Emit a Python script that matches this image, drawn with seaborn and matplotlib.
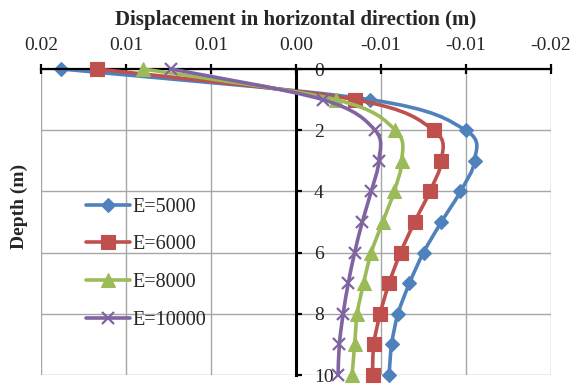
import numpy as np
import pandas as pd
import matplotlib
matplotlib.use("Agg")
import matplotlib.pyplot as plt
from matplotlib.ticker import FormatStrFormatter
from matplotlib.path import Path
from matplotlib.patches import PathPatch
from matplotlib.lines import Line2D
import seaborn as sns

sns.set_theme(style="white")
plt.rcParams['font.family'] = ['Liberation Serif', 'DejaVu Serif']

depth = [0, 1, 2, 3, 4, 5, 6, 7, 8, 9, 10]
disp_5000 = [0.0184, -0.0058, -0.0133, -0.0140, -0.0129, -0.0114, -0.0100, -0.0089, -0.0080, -0.0075, -0.0073]
disp_6000 = [0.0156, -0.0046, -0.0108, -0.0114, -0.0105, -0.0093, -0.0082, -0.0073, -0.0066, -0.0061, -0.0060]
disp_8000 = [0.0120, -0.0031, -0.0078, -0.0083, -0.0077, -0.0068, -0.0059, -0.0053, -0.0048, -0.0046, -0.0044]
disp_10000 = [0.0098, -0.0021, -0.0062, -0.0065, -0.0059, -0.0052, -0.0046, -0.0041, -0.0037, -0.0034, -0.0033]
labels = ["E=5000", "E=6000", "E=8000", "E=10000"]
x_ticks = [0.02, 0.04 / 3, 0.02 / 3, 0.0, -0.02 / 3, -0.04 / 3, -0.02]
y_ticks = [0, 2, 4, 6, 8, 10]

series = [disp_5000, disp_6000, disp_8000, disp_10000]
colors = ["#4F81BD", "#C0504D", "#9BBB59", "#8064A2"]
markers = ["D", "s", "^", "x"]
msizes = [7.5, 10, 10, 9]
LW = 2.6


def smooth_path(xs, ys):
    """Excel-style smoothed line: cubic Bezier through the data points."""
    p = np.column_stack([xs, ys]).astype(float)
    n = len(p)
    verts = [p[0]]
    codes = [Path.MOVETO]
    for i in range(n - 1):
        p0 = p[i - 1] if i > 0 else p[i]
        p1, p2 = p[i], p[i + 1]
        p3 = p[i + 2] if i + 2 < n else p[i + 1]
        c1 = p1 + (p2 - p0) / 6.0
        c2 = p2 - (p3 - p1) / 6.0
        verts += [c1, c2, p2]
        codes += [Path.CURVE4] * 3
    return Path(np.array(verts), codes)


fig = plt.figure(figsize=(5.8, 3.84), dpi=100)
ax = fig.add_axes([41 / 580, 1 - 375 / 384, 510 / 580, 306 / 384])

handles = []
for k, (vals, lab, c, m, ms) in enumerate(zip(series, labels, colors, markers, msizes)):
    ax.add_patch(PathPatch(smooth_path(vals, depth), facecolor='none', edgecolor=c,
                           lw=LW, capstyle='round', joinstyle='round', clip_on=False,
                           zorder=2 + k))
    df = pd.DataFrame({"depth": depth, "disp": vals})
    sns.lineplot(data=df, x="disp", y="depth", orient="y", sort=False, ax=ax,
                 color=c, linestyle='', marker=m, markersize=ms, markeredgecolor=c,
                 markeredgewidth=1.6 if m == "x" else 0.8, clip_on=False,
                 zorder=2.5 + k, legend=False)
    handles.append(Line2D([], [], color=c, lw=LW, marker=m, markersize=ms,
                          markeredgecolor=c, markeredgewidth=1.6 if m == "x" else 0.8,
                          label=lab))

ax.set_xlim(0.02, -0.02)
ax.set_ylim(10, 0)
ax.set_xticks(x_ticks)
ax.set_yticks(y_ticks)
ax.xaxis.set_major_formatter(FormatStrFormatter('%.2f'))
ax.xaxis.tick_top()
ax.xaxis.set_label_position('top')
ax.grid(True, color="#A6A6A6", lw=1.0)
ax.set_axisbelow(True)

for s in ["left", "bottom"]:
    ax.spines[s].set_visible(False)
ax.spines["top"].set_color("black")
ax.spines["top"].set_linewidth(1.6)
ax.spines["right"].set_position(("data", 0))
ax.spines["right"].set_color("black")
ax.spines["right"].set_linewidth(2.2)
ax.yaxis.set_ticks_position('right')

ax.tick_params(axis='x', direction='inout', length=7, width=1.6, color='black',
               labelsize=14, pad=7, top=True, bottom=False)
ax.tick_params(axis='y', direction='out', length=4, width=1.6, color='black',
               labelsize=14, pad=9, right=True, left=False)

ax.set_xlabel("Displacement in horizontal direction (m)", fontsize=15,
              fontweight='bold', labelpad=9)
ax.set_ylabel("Depth (m)", fontsize=14, fontweight='bold')
ax.yaxis.set_label_position('left')
ax.yaxis.set_label_coords(-0.026, 0.55)

leg = ax.legend(handles=handles, loc="upper left", bbox_to_anchor=(0.088, 0.58),
                frameon=False, fontsize=14.5, handlelength=2.2, handletextpad=0.1,
                labelspacing=0.93, borderpad=0, borderaxespad=0)

fig.savefig("out.png", dpi=100)
